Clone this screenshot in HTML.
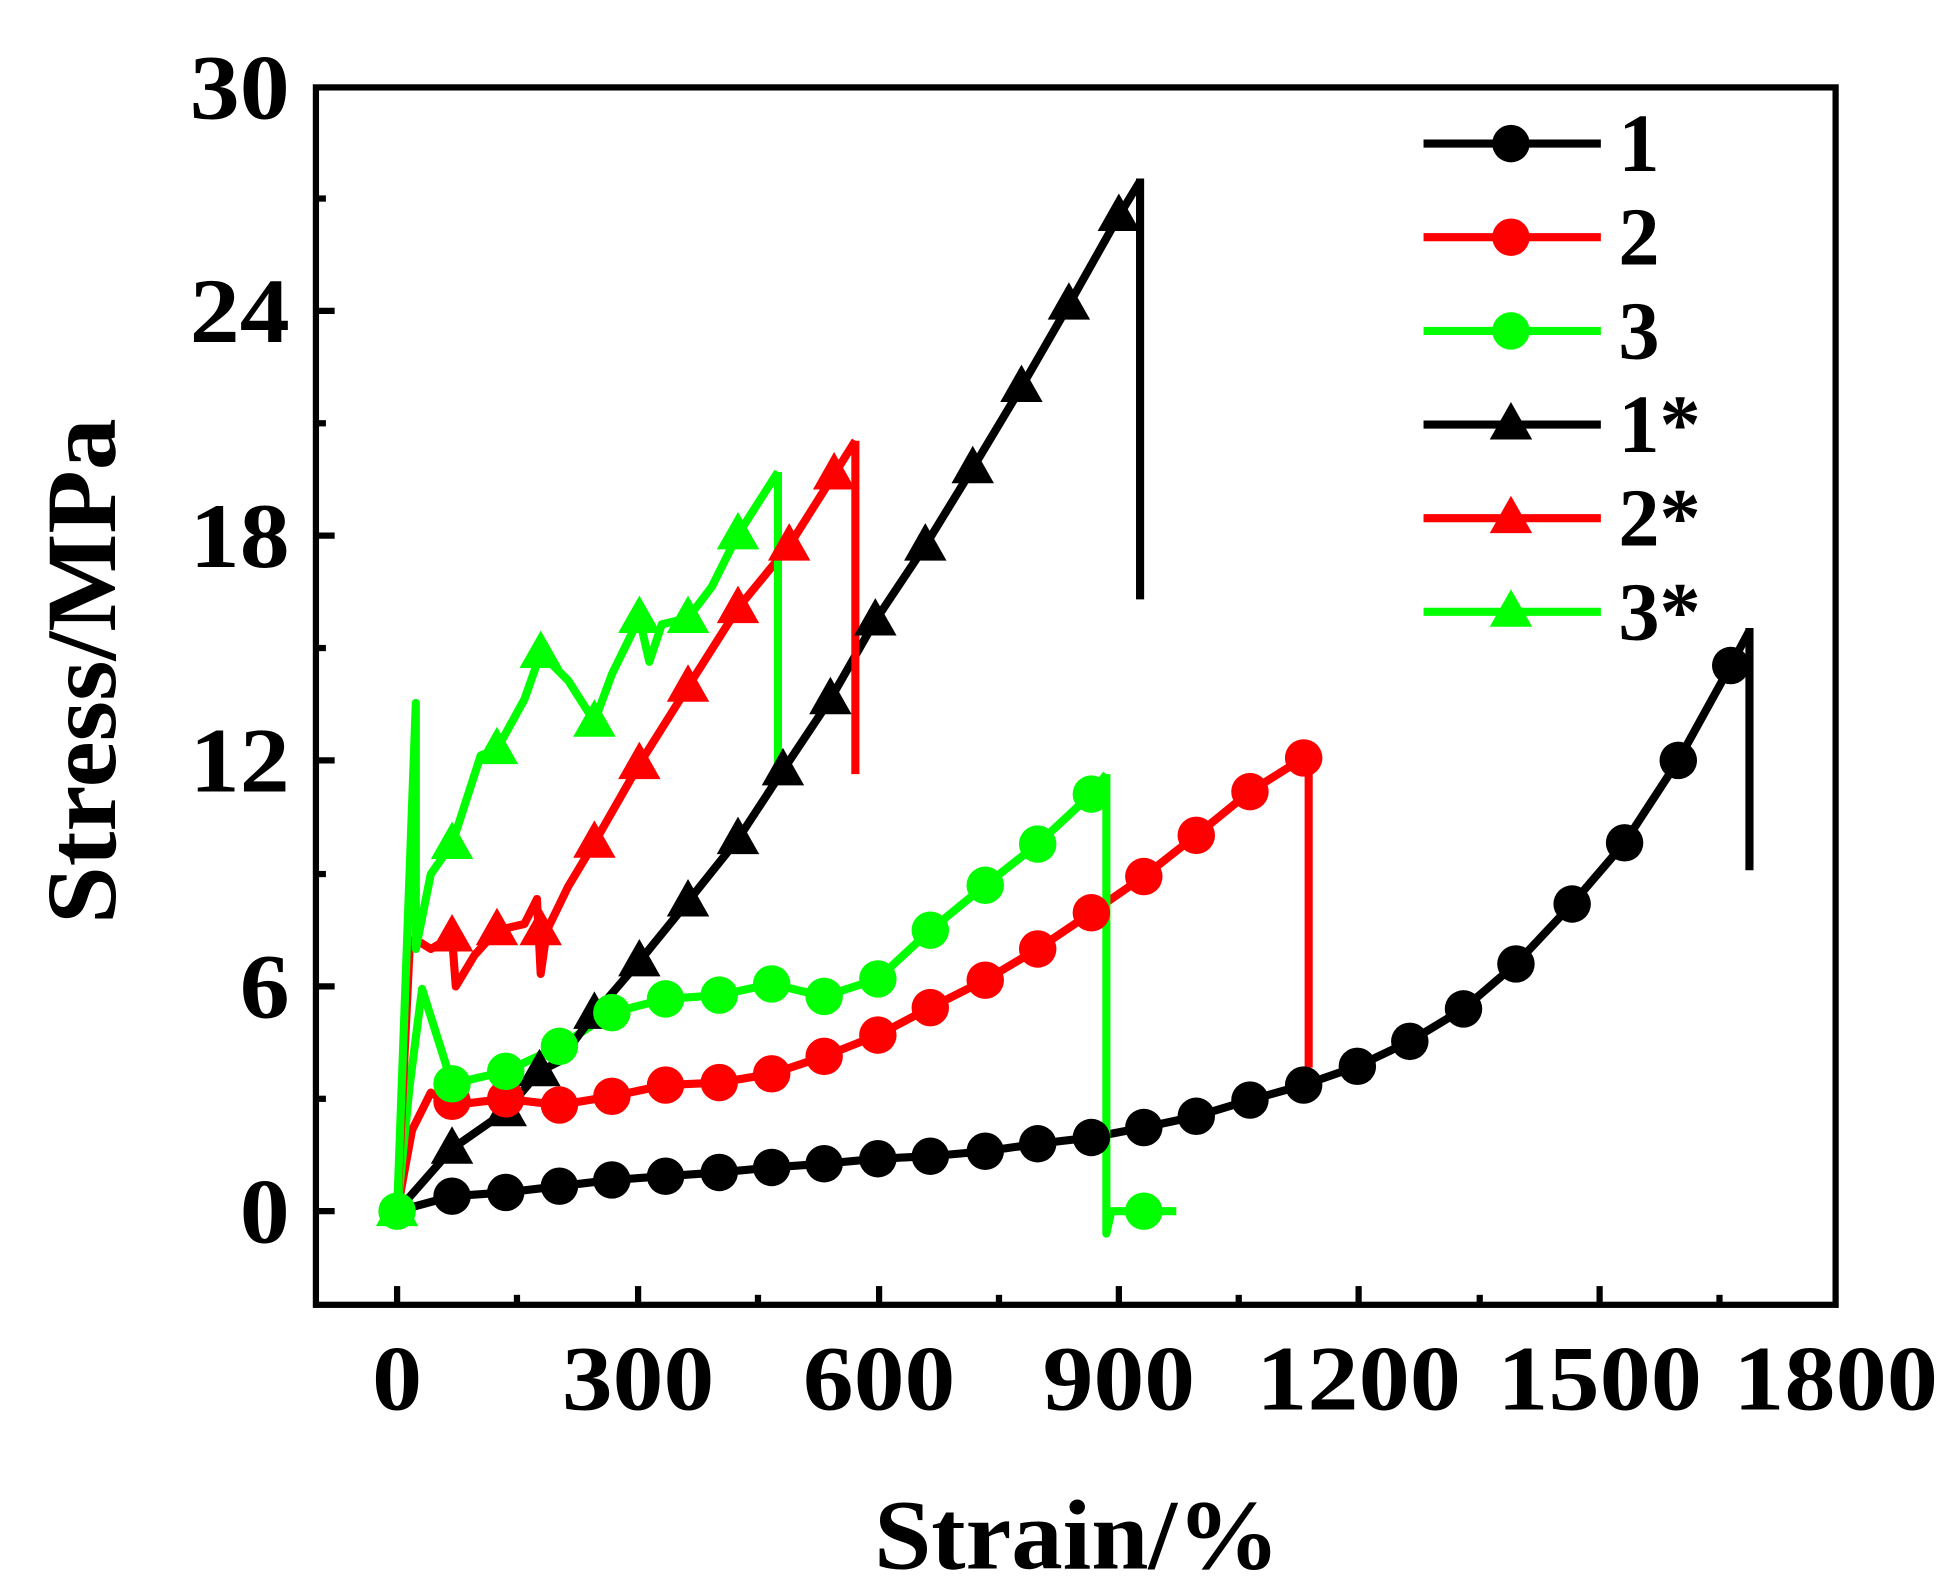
<!DOCTYPE html>
<html><head><meta charset="utf-8"><style>html,body{margin:0;padding:0;background:#fff}svg{display:block}</style></head>
<body>
<svg width="1948" height="1595" viewBox="0 0 1560 1277.4" preserveAspectRatio="none" xmlns="http://www.w3.org/2000/svg">
<defs>
<circle id="c" r="15"/>
<path id="t" d="M0,-18 L17,12 L-17,12 Z"/>
</defs>
<g font-family="Liberation Serif, serif" font-weight="bold" fill="#000">
<rect x="253" y="70" width="1217" height="975" fill="none" stroke="#000" stroke-width="5"/>
<g stroke="#000" stroke-width="5">
<line x1="253" y1="970" x2="268" y2="970"/><line x1="253" y1="790" x2="268" y2="790"/><line x1="253" y1="609" x2="268" y2="609"/><line x1="253" y1="429" x2="268" y2="429"/><line x1="253" y1="249" x2="268" y2="249"/>
<line x1="253" y1="880" x2="261" y2="880"/><line x1="253" y1="700" x2="261" y2="700"/><line x1="253" y1="519" x2="261" y2="519"/><line x1="253" y1="339" x2="261" y2="339"/><line x1="253" y1="159" x2="261" y2="159"/>
<line x1="318" y1="1045" x2="318" y2="1030"/><line x1="511" y1="1045" x2="511" y2="1030"/><line x1="704" y1="1045" x2="704" y2="1030"/><line x1="896" y1="1045" x2="896" y2="1030"/><line x1="1088" y1="1045" x2="1088" y2="1030"/><line x1="1281" y1="1045" x2="1281" y2="1030"/>
<line x1="414" y1="1045" x2="414" y2="1037"/><line x1="607" y1="1045" x2="607" y2="1037"/><line x1="800" y1="1045" x2="800" y2="1037"/><line x1="992" y1="1045" x2="992" y2="1037"/><line x1="1185" y1="1045" x2="1185" y2="1037"/><line x1="1377" y1="1045" x2="1377" y2="1037"/>
</g>
<g font-size="74" lengthAdjust="spacingAndGlyphs">
<text x="192" y="995" textLength="40" lengthAdjust="spacingAndGlyphs">0</text>
<text x="192" y="815" textLength="40" lengthAdjust="spacingAndGlyphs">6</text>
<text x="152" y="634" textLength="80" lengthAdjust="spacingAndGlyphs">12</text>
<text x="152" y="454" textLength="80" lengthAdjust="spacingAndGlyphs">18</text>
<text x="152" y="274" textLength="80" lengthAdjust="spacingAndGlyphs">24</text>
<text x="152" y="95" textLength="80" lengthAdjust="spacingAndGlyphs">30</text>
</g>
<g font-size="74">
<text x="298" y="1129" textLength="40" lengthAdjust="spacingAndGlyphs">0</text>
<text x="450" y="1129" textLength="122" lengthAdjust="spacingAndGlyphs">300</text>
<text x="643" y="1129" textLength="122" lengthAdjust="spacingAndGlyphs">600</text>
<text x="835" y="1129" textLength="122" lengthAdjust="spacingAndGlyphs">900</text>
<text x="1006" y="1129" textLength="164" lengthAdjust="spacingAndGlyphs">1200</text>
<text x="1199" y="1129" textLength="164" lengthAdjust="spacingAndGlyphs">1500</text>
<text x="1388" y="1129" textLength="164" lengthAdjust="spacingAndGlyphs">1800</text>
</g>
<text x="700" y="1256" font-size="80" textLength="325" lengthAdjust="spacingAndGlyphs">Strain/%</text>
<text transform="translate(92,740) rotate(-90)" font-size="80" textLength="405" lengthAdjust="spacingAndGlyphs">Stress/MPa</text>
</g>

<g fill="none" stroke-width="6.5" stroke-linejoin="round">
<polyline stroke="#000" points="318,970 362,958 405,955 448,950 490,945 533,942 576,939 618,935 660,932 703,928 745,926 789,922 831,916 874,911 916,903 958,894 1001,881 1044,869 1087,854 1129,834 1172,808 1214,772 1259,724 1301,675 1344,609 1386,533 1401,505"/>
<line x1="1401" y1="503" x2="1401" y2="697" stroke="#000"/>
<polyline stroke="#f00" points="318,970 330,905 345,875 362,885 405,880 448,885 490,878 533,869 576,867 618,860 660,846 703,829 745,807 789,785 831,760 874,731 916,702 958,669 1001,634 1044,607 1048,605"/>
<line x1="1048" y1="605" x2="1048" y2="855" stroke="#f00"/>
<polyline stroke="#0f0" points="318,970 328,870 338,792 350,830 362,868 405,858 448,838 490,811 533,800 576,797 618,788 660,798 703,784 745,745 789,709 831,676 874,636 886,620"/>
<polyline stroke="#0f0" points="886,620 886,988 890,970 942,970"/>
<polyline stroke="#000" points="318,970 362,920 405,890 432,858 448,850 476,812 512,770 551,722 591,672 627,617 665,560 701,497 741,437 779,375 818,310 856,244 896,173 913,145"/>
<line x1="913" y1="143" x2="913" y2="480" stroke="#000"/>
<polyline stroke="#f00" points="318,970 328,760 332,752 345,760 362,750 365,790 380,765 398,745 420,740 430,720 433,780 438,745 455,710 476,675 512,612 551,550 591,487 632,437 668,380 685,353"/>
<line x1="685" y1="353" x2="685" y2="620" stroke="#f00"/>
<polyline stroke="#0f0" points="318,970 333,563 333,760 345,700 362,676 385,605 398,600 420,560 433,523 455,545 476,578 490,540 512,495 520,530 530,500 551,495 570,470 591,428 623,378"/>
<line x1="623" y1="378" x2="623" y2="620" stroke="#0f0"/>
</g>

<g fill="#000">
<use href="#c" x="362" y="958"/><use href="#c" x="405" y="955"/><use href="#c" x="448" y="950"/><use href="#c" x="490" y="945"/><use href="#c" x="533" y="942"/><use href="#c" x="576" y="939"/><use href="#c" x="618" y="935"/><use href="#c" x="660" y="932"/><use href="#c" x="703" y="928"/><use href="#c" x="745" y="926"/><use href="#c" x="789" y="922"/><use href="#c" x="831" y="916"/><use href="#c" x="874" y="911"/><use href="#c" x="916" y="903"/><use href="#c" x="958" y="894"/><use href="#c" x="1001" y="881"/><use href="#c" x="1044" y="869"/><use href="#c" x="1087" y="854"/><use href="#c" x="1129" y="834"/><use href="#c" x="1172" y="808"/><use href="#c" x="1214" y="772"/><use href="#c" x="1259" y="724"/><use href="#c" x="1301" y="675"/><use href="#c" x="1344" y="609"/><use href="#c" x="1386" y="533"/>
<use href="#t" x="362" y="920"/><use href="#t" x="405" y="890"/><use href="#t" x="432" y="858"/><use href="#t" x="476" y="812"/><use href="#t" x="512" y="770"/><use href="#t" x="551" y="722"/><use href="#t" x="591" y="672"/><use href="#t" x="627" y="617"/><use href="#t" x="665" y="560"/><use href="#t" x="701" y="497"/><use href="#t" x="741" y="437"/><use href="#t" x="779" y="375"/><use href="#t" x="818" y="310"/><use href="#t" x="856" y="244"/><use href="#t" x="896" y="173"/>
</g>
<g fill="#f00">
<use href="#c" x="362" y="882"/><use href="#c" x="405" y="880"/><use href="#c" x="448" y="885"/><use href="#c" x="490" y="878"/><use href="#c" x="533" y="869"/><use href="#c" x="576" y="867"/><use href="#c" x="618" y="860"/><use href="#c" x="660" y="846"/><use href="#c" x="703" y="829"/><use href="#c" x="745" y="807"/><use href="#c" x="789" y="785"/><use href="#c" x="831" y="760"/><use href="#c" x="874" y="731"/><use href="#c" x="916" y="702"/><use href="#c" x="958" y="669"/><use href="#c" x="1001" y="634"/><use href="#c" x="1044" y="607"/>
<use href="#t" x="362" y="750"/><use href="#t" x="398" y="745"/><use href="#t" x="433" y="745"/><use href="#t" x="476" y="675"/><use href="#t" x="512" y="612"/><use href="#t" x="551" y="550"/><use href="#t" x="591" y="487"/><use href="#t" x="632" y="437"/><use href="#t" x="668" y="380"/>
</g>
<g fill="#0f0">
<use href="#c" x="362" y="868"/><use href="#c" x="405" y="858"/><use href="#c" x="448" y="838"/><use href="#c" x="490" y="811"/><use href="#c" x="533" y="800"/><use href="#c" x="576" y="797"/><use href="#c" x="618" y="788"/><use href="#c" x="660" y="798"/><use href="#c" x="703" y="784"/><use href="#c" x="745" y="745"/><use href="#c" x="789" y="709"/><use href="#c" x="831" y="676"/><use href="#c" x="874" y="636"/><use href="#c" x="916" y="970"/>
<use href="#t" x="362" y="676"/><use href="#t" x="398" y="600"/><use href="#t" x="433" y="523"/><use href="#t" x="476" y="578"/><use href="#t" x="512" y="495"/><use href="#t" x="551" y="495"/><use href="#t" x="591" y="428"/>
<use href="#c" x="318" y="970"/><use href="#t" x="318" y="970"/>
</g>

<g stroke-width="6.5">
<line x1="1140" y1="115" x2="1282" y2="115" stroke="#000"/>
<line x1="1140" y1="190" x2="1282" y2="190" stroke="#f00"/>
<line x1="1140" y1="265" x2="1282" y2="265" stroke="#0f0"/>
<line x1="1140" y1="340" x2="1282" y2="340" stroke="#000"/>
<line x1="1140" y1="415" x2="1282" y2="415" stroke="#f00"/>
<line x1="1140" y1="490" x2="1282" y2="490" stroke="#0f0"/>
</g>
<use href="#c" x="1210" y="115" fill="#000"/><use href="#c" x="1210" y="190" fill="#f00"/><use href="#c" x="1210" y="265" fill="#0f0"/>
<use href="#t" x="1210" y="340" fill="#000"/><use href="#t" x="1210" y="415" fill="#f00"/><use href="#t" x="1210" y="490" fill="#0f0"/>
<g font-family="Liberation Serif, serif" font-weight="bold" font-size="66" fill="#000">
<text x="1296" y="137">1</text><text x="1296" y="212">2</text><text x="1296" y="287">3</text><text x="1296" y="362">1*</text><text x="1296" y="437">2*</text><text x="1296" y="512">3*</text>
</g>
</svg>
</body></html>
